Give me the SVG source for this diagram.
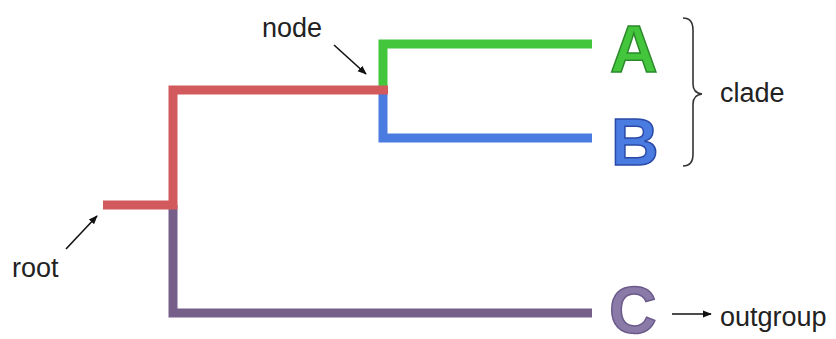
<svg xmlns="http://www.w3.org/2000/svg" width="836" height="339" viewBox="0 0 836 339">
  <defs>
    <marker id="ah" viewBox="0 0 10 10" refX="9" refY="5" markerWidth="9" markerHeight="9" markerUnits="userSpaceOnUse" orient="auto">
      <path d="M0,1 L10,5 L0,9 Z" fill="#111"/>
    </marker>
    <style>
      .br{fill:none;stroke-width:9;stroke-linecap:butt;stroke-linejoin:miter}
      .lbl{font-family:"Liberation Sans",Arial,sans-serif;font-size:27px;fill:#222}
      .big{font-family:"Liberation Sans",Arial,sans-serif;font-size:66px;font-weight:bold;stroke-width:1.5}
      .ar{fill:none;stroke:#111;stroke-width:1.6;marker-end:url(#ah)}
    </style>
  </defs>
  <rect width="836" height="339" fill="#fff"/>
  <g id="connectors">
    <path class="br" stroke="#76608a" d="M173,205 V313 H592"/>
    <path class="br" stroke="#44c63c" d="M383,90 V44 H592"/>
    <path class="br" stroke="#4a7be0" d="M383,90 V138 H592"/>
    <path class="br" stroke="#d25a5c" d="M103,205 H177 M173,209 V90 H388"/>
    <path class="ar" d="M334,45 L366,74"/>
    <path class="ar" d="M66,249 L97,216"/>
    <path class="ar" d="M672,314 L711,314"/>
    <path d="M683,18 Q693,18 693,30 L693,84 Q693,93 702,94 Q693,95 693,104 L693,154 Q693,166 683,166" fill="none" stroke="#333" stroke-width="1.6"/>
  </g>
  <g id="node-label"><text class="lbl" x="262" y="37">node</text></g>
  <g id="root-label"><text class="lbl" x="12" y="277">root</text></g>
  <g id="taxon-A"><text class="big" x="610" y="72" fill="#44c63c" stroke="#2c8a2c">A</text></g>
  <g id="taxon-B"><text class="big" x="611" y="165" fill="#4a7be0" stroke="#2a4aa8">B</text></g>
  <g id="taxon-C"><text class="big" x="609" y="333" font-size="64" fill="#8a7aa8" stroke="#6a5a8a">C</text></g>
  <g id="clade-label"><text class="lbl" x="720" y="102">clade</text></g>
  <g id="outgroup-label"><text class="lbl" x="720" y="326">outgroup</text></g>
</svg>
